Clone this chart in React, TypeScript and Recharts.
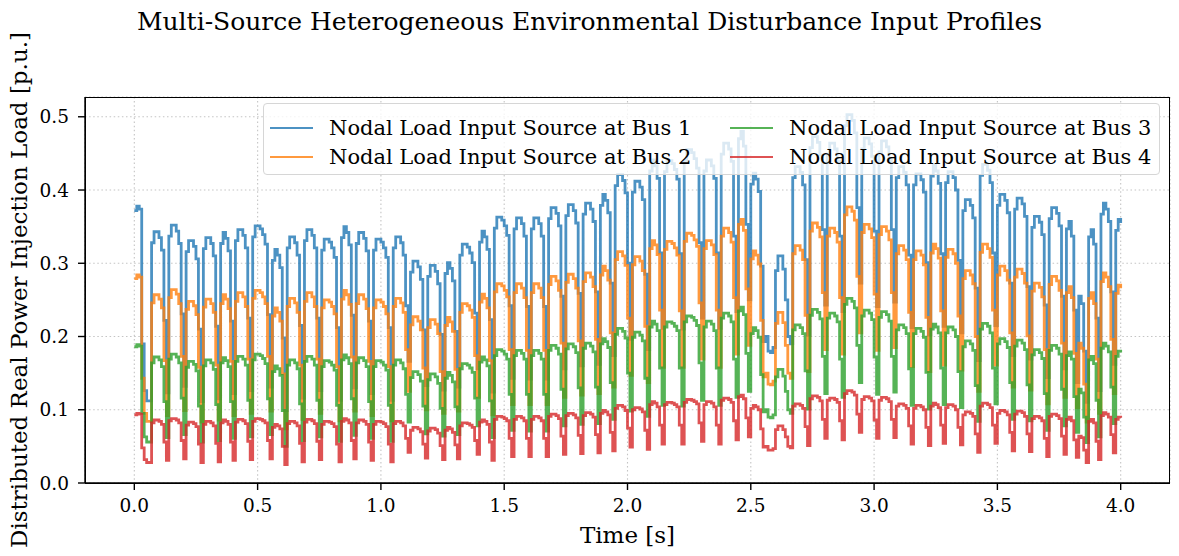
import { LineChart, Line, XAxis, YAxis, CartesianGrid } from 'recharts'

// one sample every 10 ms starting at t = 0 s, values in p.u. (step signal)
const sampleStart = 0
const sampleStep = 0.01

const bus1 = [
  0.372, 0.378, 0.374, 0.190, 0.126, 0.112, 0.112,
  0.328, 0.343, 0.343, 0.335, 0.318, 0.222, 0.123,
  0.337, 0.352, 0.352, 0.344, 0.327, 0.231, 0.132,
  0.316, 0.331, 0.331, 0.323, 0.306, 0.210, 0.111,
  0.320, 0.335, 0.335, 0.327, 0.310, 0.214, 0.115,
  0.327, 0.342, 0.334, 0.317, 0.221, 0.122,
  0.331, 0.346, 0.346, 0.338, 0.321, 0.225, 0.126,
  0.336, 0.351, 0.351, 0.347, 0.339, 0.326, 0.230, 0.131,
  0.304, 0.319, 0.311, 0.294, 0.198, 0.099,
  0.321, 0.336, 0.336, 0.328, 0.311, 0.215, 0.116,
  0.331, 0.346, 0.346, 0.338, 0.321, 0.225, 0.126,
  0.318, 0.333, 0.333, 0.329, 0.321, 0.308, 0.212, 0.113,
  0.335, 0.350, 0.342, 0.325, 0.229, 0.130,
  0.327, 0.342, 0.342, 0.334, 0.317, 0.221, 0.122,
  0.318, 0.333, 0.333, 0.329, 0.321, 0.308, 0.212, 0.113,
  0.321, 0.336, 0.336, 0.328, 0.311, 0.242, 0.166,
  0.288, 0.303, 0.303, 0.295, 0.278, 0.209, 0.133,
  0.282, 0.297, 0.297, 0.289, 0.272, 0.203, 0.127,
  0.286, 0.301, 0.293, 0.276, 0.207, 0.131,
  0.311, 0.326, 0.326, 0.322, 0.314, 0.301, 0.232, 0.156,
  0.329, 0.344, 0.336, 0.319, 0.223, 0.124,
  0.348, 0.363, 0.363, 0.359, 0.351, 0.338, 0.242, 0.143,
  0.347, 0.362, 0.362, 0.354, 0.337, 0.241, 0.142,
  0.347, 0.362, 0.362, 0.354, 0.337, 0.241, 0.142,
  0.361, 0.376, 0.376, 0.368, 0.351, 0.255, 0.156,
  0.365, 0.380, 0.380, 0.372, 0.355, 0.259, 0.160,
  0.367, 0.382, 0.382, 0.374, 0.357, 0.261, 0.162,
  0.379, 0.394, 0.386, 0.369, 0.273, 0.174,
  0.406, 0.421, 0.421, 0.413, 0.396, 0.300, 0.196,
  0.397, 0.412, 0.412, 0.404, 0.387, 0.285, 0.182,
  0.426, 0.441, 0.433, 0.416, 0.314, 0.211,
  0.425, 0.440, 0.440, 0.436, 0.428, 0.415, 0.313, 0.210,
  0.440, 0.455, 0.455, 0.451, 0.443, 0.430, 0.328, 0.225,
  0.426, 0.441, 0.441, 0.433, 0.416, 0.314, 0.211,
  0.449, 0.464, 0.464, 0.456, 0.439, 0.337, 0.234,
  0.470, 0.480, 0.460, 0.353, 0.250,
  0.408, 0.423, 0.415, 0.398, 0.296, 0.193,
  0.200, 0.180, 0.178, 0.185, 0.290, 0.310, 0.310, 0.292, 0.250, 0.200, 0.190,
  0.417, 0.432, 0.432, 0.424, 0.407, 0.305, 0.202,
  0.458, 0.473, 0.473, 0.465, 0.448, 0.346, 0.243,
  0.449, 0.464, 0.464, 0.456, 0.439, 0.337, 0.234,
  0.488, 0.503, 0.503, 0.495, 0.478, 0.376, 0.273,
  0.456, 0.471, 0.471, 0.463, 0.446, 0.344, 0.241,
  0.452, 0.467, 0.467, 0.459, 0.442, 0.346, 0.247,
  0.417, 0.432, 0.432, 0.424, 0.407, 0.311, 0.212,
  0.407, 0.422, 0.422, 0.414, 0.397, 0.301, 0.202,
  0.419, 0.434, 0.426, 0.409, 0.313, 0.214,
  0.410, 0.425, 0.425, 0.417, 0.400, 0.304, 0.205,
  0.372, 0.387, 0.387, 0.379, 0.362, 0.266, 0.167,
  0.420, 0.435, 0.435, 0.427, 0.410, 0.314, 0.215,
  0.379, 0.394, 0.394, 0.386, 0.369, 0.273, 0.174,
  0.374, 0.389, 0.389, 0.381, 0.364, 0.268, 0.169,
  0.349, 0.364, 0.364, 0.356, 0.339, 0.243, 0.144,
  0.361, 0.376, 0.376, 0.368, 0.351, 0.255, 0.156,
  0.347, 0.357, 0.337, 0.236, 0.137,
  0.255, 0.245, 0.180, 0.110,
  0.336, 0.346, 0.326, 0.225, 0.126,
  0.367, 0.382, 0.374, 0.357, 0.261, 0.162,
  0.345, 0.360, 0.355,
]

const bus2 = [
  0.279, 0.284, 0.281, 0.143, 0.095, 0.084, 0.084,
  0.246, 0.257, 0.257, 0.251, 0.239, 0.167, 0.092,
  0.253, 0.264, 0.264, 0.258, 0.245, 0.173, 0.099,
  0.237, 0.248, 0.248, 0.242, 0.230, 0.158, 0.083,
  0.240, 0.251, 0.251, 0.245, 0.233, 0.161, 0.086,
  0.245, 0.257, 0.251, 0.238, 0.166, 0.092,
  0.248, 0.260, 0.260, 0.254, 0.241, 0.169, 0.095,
  0.252, 0.263, 0.263, 0.260, 0.254, 0.245, 0.173, 0.098,
  0.228, 0.239, 0.233, 0.221, 0.149, 0.074,
  0.241, 0.252, 0.252, 0.246, 0.233, 0.161, 0.087,
  0.248, 0.260, 0.260, 0.254, 0.241, 0.169, 0.095,
  0.239, 0.250, 0.250, 0.247, 0.241, 0.231, 0.159, 0.085,
  0.251, 0.263, 0.257, 0.244, 0.172, 0.098,
  0.245, 0.257, 0.257, 0.251, 0.238, 0.166, 0.092,
  0.239, 0.250, 0.250, 0.247, 0.241, 0.231, 0.159, 0.085,
  0.241, 0.252, 0.252, 0.246, 0.233, 0.182, 0.125,
  0.216, 0.227, 0.227, 0.221, 0.209, 0.157, 0.100,
  0.212, 0.223, 0.223, 0.217, 0.204, 0.152, 0.095,
  0.215, 0.226, 0.220, 0.207, 0.155, 0.098,
  0.233, 0.245, 0.245, 0.242, 0.236, 0.226, 0.174, 0.117,
  0.247, 0.258, 0.252, 0.239, 0.167, 0.093,
  0.261, 0.272, 0.272, 0.269, 0.263, 0.254, 0.182, 0.107,
  0.260, 0.272, 0.272, 0.266, 0.253, 0.181, 0.107,
  0.260, 0.272, 0.272, 0.266, 0.253, 0.181, 0.107,
  0.271, 0.282, 0.282, 0.276, 0.263, 0.191, 0.117,
  0.274, 0.285, 0.285, 0.279, 0.266, 0.194, 0.120,
  0.275, 0.287, 0.287, 0.281, 0.268, 0.196, 0.122,
  0.284, 0.296, 0.290, 0.277, 0.205, 0.131,
  0.305, 0.316, 0.316, 0.310, 0.297, 0.225, 0.147,
  0.298, 0.309, 0.309, 0.303, 0.290, 0.214, 0.137,
  0.320, 0.331, 0.325, 0.312, 0.236, 0.158,
  0.319, 0.330, 0.330, 0.327, 0.321, 0.311, 0.235, 0.158,
  0.330, 0.341, 0.341, 0.338, 0.332, 0.323, 0.246, 0.169,
  0.320, 0.331, 0.331, 0.325, 0.312, 0.236, 0.158,
  0.337, 0.348, 0.348, 0.342, 0.329, 0.253, 0.176,
  0.353, 0.360, 0.345, 0.265, 0.188,
  0.306, 0.317, 0.311, 0.299, 0.222, 0.145,
  0.150, 0.135, 0.134, 0.139, 0.218, 0.233, 0.233, 0.219, 0.188, 0.150, 0.143,
  0.313, 0.324, 0.324, 0.318, 0.305, 0.229, 0.152,
  0.344, 0.355, 0.355, 0.349, 0.336, 0.260, 0.182,
  0.337, 0.348, 0.348, 0.342, 0.329, 0.253, 0.176,
  0.366, 0.377, 0.377, 0.371, 0.359, 0.282, 0.205,
  0.342, 0.353, 0.353, 0.347, 0.335, 0.258, 0.181,
  0.339, 0.350, 0.350, 0.344, 0.332, 0.260, 0.185,
  0.313, 0.324, 0.324, 0.318, 0.305, 0.233, 0.159,
  0.305, 0.317, 0.317, 0.311, 0.298, 0.226, 0.152,
  0.314, 0.326, 0.320, 0.307, 0.235, 0.161,
  0.308, 0.319, 0.319, 0.313, 0.300, 0.228, 0.154,
  0.279, 0.290, 0.290, 0.284, 0.272, 0.200, 0.125,
  0.315, 0.326, 0.326, 0.320, 0.308, 0.236, 0.161,
  0.284, 0.296, 0.296, 0.290, 0.277, 0.205, 0.131,
  0.281, 0.292, 0.292, 0.286, 0.273, 0.201, 0.127,
  0.262, 0.273, 0.273, 0.267, 0.254, 0.182, 0.108,
  0.271, 0.282, 0.282, 0.276, 0.263, 0.191, 0.117,
  0.260, 0.268, 0.253, 0.177, 0.103,
  0.191, 0.184, 0.135, 0.083,
  0.252, 0.260, 0.245, 0.169, 0.095,
  0.275, 0.287, 0.281, 0.268, 0.196, 0.122,
  0.259, 0.270, 0.266,
]

const bus3 = [
  0.186, 0.189, 0.187, 0.095, 0.063, 0.056, 0.056,
  0.164, 0.172, 0.172, 0.168, 0.159, 0.111, 0.062,
  0.169, 0.176, 0.176, 0.172, 0.164, 0.116, 0.066,
  0.158, 0.166, 0.166, 0.162, 0.153, 0.105, 0.056,
  0.160, 0.168, 0.168, 0.164, 0.155, 0.107, 0.058,
  0.164, 0.171, 0.167, 0.159, 0.111, 0.061,
  0.166, 0.173, 0.173, 0.169, 0.161, 0.113, 0.063,
  0.168, 0.176, 0.176, 0.174, 0.170, 0.163, 0.115, 0.066,
  0.152, 0.160, 0.156, 0.147, 0.099, 0.050,
  0.161, 0.168, 0.168, 0.164, 0.156, 0.108, 0.058,
  0.166, 0.173, 0.173, 0.169, 0.161, 0.113, 0.063,
  0.159, 0.167, 0.167, 0.165, 0.161, 0.154, 0.106, 0.057,
  0.168, 0.175, 0.171, 0.163, 0.115, 0.065,
  0.164, 0.171, 0.171, 0.167, 0.159, 0.111, 0.061,
  0.159, 0.167, 0.167, 0.165, 0.161, 0.154, 0.106, 0.057,
  0.161, 0.168, 0.168, 0.164, 0.156, 0.121, 0.083,
  0.144, 0.152, 0.152, 0.148, 0.139, 0.105, 0.067,
  0.141, 0.149, 0.149, 0.145, 0.136, 0.102, 0.064,
  0.143, 0.151, 0.147, 0.138, 0.104, 0.066,
  0.156, 0.163, 0.163, 0.161, 0.157, 0.151, 0.116, 0.078,
  0.165, 0.172, 0.168, 0.160, 0.112, 0.062,
  0.174, 0.182, 0.182, 0.180, 0.176, 0.169, 0.121, 0.072,
  0.174, 0.181, 0.181, 0.177, 0.169, 0.121, 0.071,
  0.174, 0.181, 0.181, 0.177, 0.169, 0.121, 0.071,
  0.181, 0.188, 0.188, 0.184, 0.176, 0.128, 0.078,
  0.183, 0.190, 0.190, 0.186, 0.178, 0.130, 0.080,
  0.184, 0.191, 0.191, 0.187, 0.179, 0.131, 0.081,
  0.190, 0.197, 0.193, 0.185, 0.137, 0.087,
  0.203, 0.211, 0.211, 0.207, 0.198, 0.150, 0.098,
  0.199, 0.206, 0.206, 0.202, 0.194, 0.143, 0.091,
  0.213, 0.221, 0.217, 0.208, 0.157, 0.106,
  0.213, 0.220, 0.220, 0.218, 0.214, 0.208, 0.157, 0.105,
  0.220, 0.228, 0.228, 0.226, 0.222, 0.215, 0.164, 0.113,
  0.213, 0.221, 0.221, 0.217, 0.208, 0.157, 0.106,
  0.225, 0.232, 0.232, 0.228, 0.220, 0.169, 0.117,
  0.235, 0.240, 0.230, 0.177, 0.125,
  0.204, 0.212, 0.208, 0.199, 0.148, 0.097,
  0.100, 0.090, 0.089, 0.093, 0.145, 0.155, 0.155, 0.146, 0.125, 0.100, 0.095,
  0.209, 0.216, 0.216, 0.212, 0.204, 0.153, 0.101,
  0.229, 0.237, 0.237, 0.233, 0.224, 0.173, 0.122,
  0.225, 0.232, 0.232, 0.228, 0.220, 0.169, 0.117,
  0.244, 0.252, 0.252, 0.248, 0.239, 0.188, 0.137,
  0.228, 0.236, 0.236, 0.232, 0.223, 0.172, 0.121,
  0.226, 0.234, 0.234, 0.230, 0.221, 0.173, 0.124,
  0.209, 0.216, 0.216, 0.212, 0.204, 0.156, 0.106,
  0.204, 0.211, 0.211, 0.207, 0.199, 0.151, 0.101,
  0.210, 0.217, 0.213, 0.205, 0.157, 0.107,
  0.205, 0.213, 0.213, 0.209, 0.200, 0.152, 0.103,
  0.186, 0.194, 0.194, 0.190, 0.181, 0.133, 0.084,
  0.210, 0.218, 0.218, 0.214, 0.205, 0.157, 0.108,
  0.190, 0.197, 0.197, 0.193, 0.185, 0.137, 0.087,
  0.187, 0.195, 0.195, 0.191, 0.182, 0.134, 0.085,
  0.175, 0.182, 0.182, 0.178, 0.170, 0.122, 0.072,
  0.181, 0.188, 0.188, 0.184, 0.176, 0.128, 0.078,
  0.174, 0.179, 0.169, 0.118, 0.069,
  0.128, 0.123, 0.090, 0.055,
  0.168, 0.173, 0.163, 0.113, 0.063,
  0.184, 0.191, 0.187, 0.179, 0.131, 0.081,
  0.173, 0.180, 0.178,
]

const bus4 = [
  0.093, 0.095, 0.094, 0.048, 0.032, 0.028, 0.028,
  0.082, 0.086, 0.086, 0.084, 0.080, 0.056, 0.031,
  0.085, 0.088, 0.088, 0.086, 0.082, 0.058, 0.033,
  0.079, 0.083, 0.083, 0.081, 0.077, 0.053, 0.028,
  0.080, 0.084, 0.084, 0.082, 0.078, 0.054, 0.029,
  0.082, 0.086, 0.084, 0.080, 0.056, 0.031,
  0.083, 0.087, 0.087, 0.085, 0.081, 0.057, 0.032,
  0.084, 0.088, 0.088, 0.087, 0.085, 0.082, 0.058, 0.033,
  0.076, 0.080, 0.078, 0.074, 0.050, 0.025,
  0.081, 0.084, 0.084, 0.082, 0.078, 0.054, 0.029,
  0.083, 0.087, 0.087, 0.085, 0.081, 0.057, 0.032,
  0.080, 0.084, 0.084, 0.083, 0.081, 0.077, 0.053, 0.029,
  0.084, 0.088, 0.086, 0.082, 0.058, 0.033,
  0.082, 0.086, 0.086, 0.084, 0.080, 0.056, 0.031,
  0.080, 0.084, 0.084, 0.083, 0.081, 0.077, 0.053, 0.029,
  0.081, 0.084, 0.084, 0.082, 0.078, 0.061, 0.042,
  0.072, 0.076, 0.076, 0.074, 0.070, 0.053, 0.034,
  0.071, 0.075, 0.075, 0.073, 0.068, 0.051, 0.032,
  0.072, 0.076, 0.074, 0.069, 0.052, 0.033,
  0.078, 0.082, 0.082, 0.081, 0.079, 0.076, 0.058, 0.039,
  0.083, 0.086, 0.084, 0.080, 0.056, 0.031,
  0.087, 0.091, 0.091, 0.090, 0.088, 0.085, 0.061, 0.036,
  0.087, 0.091, 0.091, 0.089, 0.085, 0.061, 0.036,
  0.087, 0.091, 0.091, 0.089, 0.085, 0.061, 0.036,
  0.091, 0.094, 0.094, 0.092, 0.088, 0.064, 0.039,
  0.092, 0.095, 0.095, 0.093, 0.089, 0.065, 0.040,
  0.092, 0.096, 0.096, 0.094, 0.090, 0.066, 0.041,
  0.095, 0.099, 0.097, 0.093, 0.069, 0.044,
  0.102, 0.106, 0.106, 0.104, 0.099, 0.075, 0.049,
  0.100, 0.103, 0.103, 0.101, 0.097, 0.072, 0.046,
  0.107, 0.111, 0.109, 0.104, 0.079, 0.053,
  0.107, 0.110, 0.110, 0.109, 0.107, 0.104, 0.079, 0.053,
  0.110, 0.114, 0.114, 0.113, 0.111, 0.108, 0.082, 0.057,
  0.107, 0.111, 0.111, 0.109, 0.104, 0.079, 0.053,
  0.113, 0.116, 0.116, 0.114, 0.110, 0.085, 0.059,
  0.118, 0.120, 0.115, 0.089, 0.063,
  0.102, 0.106, 0.104, 0.100, 0.074, 0.049,
  0.050, 0.045, 0.045, 0.047, 0.073, 0.078, 0.078, 0.073, 0.063, 0.050, 0.048,
  0.105, 0.108, 0.108, 0.106, 0.102, 0.077, 0.051,
  0.115, 0.119, 0.119, 0.117, 0.112, 0.087, 0.061,
  0.113, 0.116, 0.116, 0.114, 0.110, 0.085, 0.059,
  0.122, 0.126, 0.126, 0.124, 0.120, 0.094, 0.069,
  0.114, 0.118, 0.118, 0.116, 0.112, 0.086, 0.061,
  0.113, 0.117, 0.117, 0.115, 0.111, 0.087, 0.062,
  0.105, 0.108, 0.108, 0.106, 0.102, 0.078, 0.053,
  0.102, 0.106, 0.106, 0.104, 0.100, 0.076, 0.051,
  0.105, 0.109, 0.107, 0.103, 0.079, 0.054,
  0.103, 0.107, 0.107, 0.105, 0.100, 0.076, 0.052,
  0.093, 0.097, 0.097, 0.095, 0.091, 0.067, 0.042,
  0.105, 0.109, 0.109, 0.107, 0.103, 0.079, 0.054,
  0.095, 0.099, 0.099, 0.097, 0.093, 0.069, 0.044,
  0.094, 0.098, 0.098, 0.096, 0.091, 0.067, 0.043,
  0.088, 0.091, 0.091, 0.089, 0.085, 0.061, 0.036,
  0.091, 0.094, 0.094, 0.092, 0.088, 0.064, 0.039,
  0.087, 0.090, 0.085, 0.059, 0.035,
  0.064, 0.062, 0.045, 0.028,
  0.084, 0.087, 0.082, 0.057, 0.032,
  0.092, 0.096, 0.094, 0.090, 0.066, 0.041,
  0.087, 0.090, 0.089,
]

const xTicks = [0, 0.5, 1, 1.5, 2, 2.5, 3, 3.5, 4]
const yTicks = [0, 0.1, 0.2, 0.3, 0.4, 0.5]
const seriesKeys = ['bus1', 'bus2', 'bus3', 'bus4']
const seriesNames = [
  'Nodal Load Input Source at Bus 1',
  'Nodal Load Input Source at Bus 2',
  'Nodal Load Input Source at Bus 3',
  'Nodal Load Input Source at Bus 4',
]
const seriesColors = ['#1f77b4', '#ff7f0e', '#2ca02c', '#d62728']

const serif = '"DejaVu Serif", serif'

export default function App() {
  const chartData = bus1.map((v, i) => ({
    t: Number((sampleStart + i * sampleStep).toFixed(2)),
    bus1: v,
    bus2: bus2[i],
    bus3: bus3[i],
    bus4: bus4[i],
  }))

  // legend is laid out column by column, two entries per column
  const legendCols = [0, 460]
  const legendRows = [24, 53]

  return (
    <div style={{ position: 'fixed', left: 0, top: 0, width: 1179, height: 556, background: '#fff', fontFamily: serif }}>
      <div
        style={{
          position: 'absolute', left: 0, top: 7, width: 1179, textAlign: 'center',
          fontSize: 25, lineHeight: '30px', color: '#000',
        }}
      >
        Multi-Source Heterogeneous Environmental Disturbance Input Profiles
      </div>

      <LineChart width={1179} height={556} data={chartData} margin={{ top: 97, right: 9, bottom: 33, left: 25 }}>
        <CartesianGrid stroke="#b0b0b0" strokeDasharray="1.5 2.6" strokeWidth={1.1} strokeOpacity={0.75} />
        <XAxis
          type="number"
          dataKey="t"
          domain={[-0.2, 4.2]}
          ticks={xTicks}
          interval={0}
          height={40}
          tickFormatter={(v) => Number(v).toFixed(1)}
          tick={{ fontSize: 18.5, fontFamily: serif, fill: '#000' }}
          tickSize={7}
          tickMargin={9}
          tickLine={{ stroke: '#000', strokeWidth: 1.4 }}
          axisLine={{ stroke: '#000', strokeWidth: 1.4 }}
        />
        <YAxis
          type="number"
          domain={[0, 0.527]}
          ticks={yTicks}
          interval={0}
          width={60}
          tickFormatter={(v) => Number(v).toFixed(1)}
          tick={{ fontSize: 18.5, fontFamily: serif, fill: '#000' }}
          tickSize={7}
          tickMargin={9}
          tickLine={{ stroke: '#000', strokeWidth: 1.4 }}
          axisLine={{ stroke: '#000', strokeWidth: 1.4 }}
        />
        {seriesKeys.map((key, i) => (
          <Line
            key={key}
            type="stepAfter"
            dataKey={key}
            name={seriesNames[i]}
            stroke={seriesColors[i]}
            strokeOpacity={0.8}
            strokeWidth={2.8}
            dot={false}
            activeDot={false}
            isAnimationActive={false}
          />
        ))}
      </LineChart>

      {/* axes frame */}
      <div
        style={{
          position: 'absolute', left: 85, top: 97, width: 1085, height: 387,
          border: '1.4px solid #000', boxSizing: 'border-box', pointerEvents: 'none',
        }}
      />

      <div
        style={{
          position: 'absolute', left: 263, top: 103, width: 897, height: 72,
          background: 'rgba(255,255,255,0.8)', border: '1px solid #d6d6d6', borderRadius: 4,
          boxSizing: 'border-box',
        }}
      >
        {seriesNames.map((name, i) => (
          <div
            key={name}
            style={{
              position: 'absolute',
              left: 6 + legendCols[Math.floor(i / 2)],
              top: legendRows[i % 2] - 13,
              height: 26,
              display: 'flex',
              alignItems: 'center',
              whiteSpace: 'nowrap',
            }}
          >
            <span style={{ display: 'inline-block', width: 43, height: 2.8, background: seriesColors[i], opacity: 0.8, marginRight: 16 }} />
            <span style={{ fontSize: 21, color: '#000' }}>{name}</span>
          </div>
        ))}
      </div>

      <div
        style={{
          position: 'absolute', left: 85, top: 521, width: 1085, textAlign: 'center',
          fontSize: 23, lineHeight: '28px', color: '#000',
        }}
      >
        Time [s]
      </div>
      <div
        style={{
          position: 'absolute', left: 19, top: 290, width: 0, height: 0,
        }}
      >
        <div
          style={{
            position: 'absolute', left: 0, top: 0, transform: 'translate(-50%, -50%) rotate(-90deg)',
            whiteSpace: 'nowrap', fontSize: 23, lineHeight: '28px', color: '#000',
          }}
        >
          Distributed Real Power Injection Load [p.u.]
        </div>
      </div>
    </div>
  )
}
